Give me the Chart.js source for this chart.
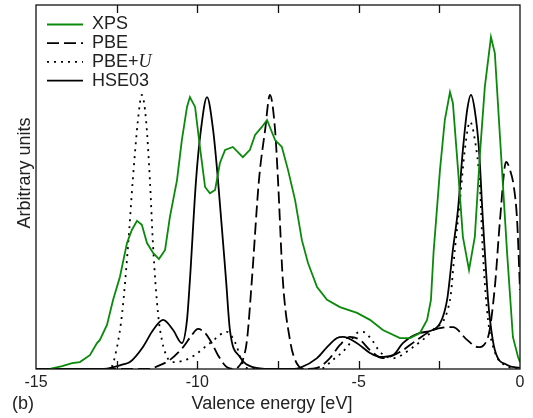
<!DOCTYPE html>
<html>
<head>
<meta charset="utf-8">
<script src="https://cdn.jsdelivr.net/npm/chart.js@4.4.1/dist/chart.umd.min.js"></script>
<style>
  html, body { margin: 0; padding: 0; background: #fff; }
  #wrap { width: 533px; height: 418px; }
</style>
</head>
<body>
<div id="wrap"><canvas id="c"></canvas></div>
<script>
// energies in eV, intensities in arbitrary units (0..100)
const xpsE = [-14.57, -14.19, -13.88, -13.64, -13.33, -13.11, -13.02, -12.80, -12.61, -12.40,
  -12.18, -12.03, -11.87, -11.72, -11.56, -11.37, -11.19, -11.00, -10.85, -10.63,
  -10.48, -10.32, -10.23, -10.07, -9.92, -9.76, -9.61, -9.45, -9.30, -9.14,
  -8.90, -8.59, -8.37, -8.21, -8.00, -7.84, -7.59, -7.38, -7.19, -6.97,
  -6.76, -6.57, -6.29, -5.98, -5.58, -5.05, -4.65, -4.25, -3.72, -3.41,
  -3.10, -2.88, -2.76, -2.68, -2.48, -2.33, -2.17, -2.08, -1.92, -1.77,
  -1.58, -1.40, -1.24, -1.09, -0.90, -0.78, -0.62, -0.40, -0.22, -0.06, 0];
const xpsI = [0, 0.8, 1.6, 1.9, 3.8, 7.1, 8.0, 12.1, 19.0, 25.3,
  34.6, 38.2, 40.7, 39.6, 34.6, 31.9, 30.2, 32.7, 41.8, 51.9,
  62.9, 72.0, 74.7, 72.0, 61.0, 50.0, 48.3, 49.2, 56.6, 60.2,
  61.0, 58.2, 60.2, 64.3, 66.5, 68.4, 62.9, 61.0, 54.7, 46.4,
  35.4, 29.1, 22.5, 19.0, 17.0, 15.4, 13.5, 10.7, 8.5, 8.5,
  9.9, 13.5, 19.0, 31.9, 54.7, 68.4, 76.1, 73.1, 54.7, 36.3,
  27.2, 36.3, 59.3, 77.5, 91.2, 86.8, 63.7, 31.9, 8.8, 3.3, 1.9];

const pbeE = [-15, -11.47, -11.37, -10.85, -10.44, -10.17, -9.98, -9.76, -9.55, -9.36,
  -9.08, -8.83, -8.68, -8.59, -8.46, -8.31, -8.09, -7.90, -7.75, -7.59,
  -7.50, -7.35, -7.13, -6.97, -6.66, -6.29, -5.89, -5.58, -5.27, -4.96,
  -4.65, -4.25, -3.72, -3.19, -2.70, -2.08, -1.64, -1.30, -0.99, -0.78,
  -0.62, -0.43, -0.31, -0.19, -0.09, 0];
const pbeI = [0, 0, 0.3, 2.5, 6.0, 9.3, 11.0, 9.9, 7.1, 3.8,
  0.5, 0, 1.1, 2.5, 8.0, 24.4, 51.9, 65.6, 75.3, 65.6,
  51.9, 24.4, 8.0, 2.5, 0, 0.3, 3.0, 6.6, 8.8, 8.0,
  5.2, 3.0, 4.7, 8.0, 10.7, 11.5, 8.0, 6.0, 8.8, 22.5,
  40.9, 56.9, 54.7, 50.0, 40.9, 21.7];

const pbeuE = [-15, -12.71, -12.49, -12.33, -12.15, -12.00, -11.84, -11.72, -11.59, -11.47,
  -11.37, -11.22, -11.10, -10.94, -10.75, -10.23, -9.61, -9.08, -8.90, -8.77,
  -8.62, -8.37, -6.20, -5.80, -5.36, -5.05, -4.87, -4.59, -4.34, -3.94,
  -3.32, -2.70, -2.17, -2.02, -1.86, -1.71, -1.55, -1.40, -1.24, -1.15,
  -0.99, -0.78, -0.40, 0];
const pbeuI = [0, 0, 6.0, 15.4, 33.5, 51.9, 68.4, 75.3, 68.4, 51.9,
  33.5, 15.4, 8.0, 3.3, 1.9, 3.0, 7.1, 10.2, 8.5, 6.0,
  1.9, 0, 0, 2.5, 6.0, 9.9, 10.2, 8.0, 4.7, 3.0,
  6.0, 10.7, 19.0, 32.7, 46.4, 60.2, 67.9, 63.0, 50.0, 31.9,
  13.5, 4.7, 0.8, 0];

const hseE = [-15, -12.90, -12.60, -12.30, -12.09, -11.69, -11.37, -11.06, -10.75, -10.48,
  -10.32, -10.23, -10.04, -9.89, -9.70, -9.51, -9.36, -9.11, -8.99, -8.68,
  -8.28, -7.75, -7.00, -6.82, -6.29, -5.98, -5.67, -5.49, -5.05, -4.65,
  -4.34, -3.94, -3.63, -3.10, -2.57, -2.26, -2.08, -1.92, -1.77, -1.64,
  -1.52, -1.40, -1.27, -1.15, -0.99, -0.93, -0.78, -0.40, 0];
const hseI = [0, 0, 0.5, 1.3, 1.9, 6.0, 10.7, 13.5, 10.7, 7.1,
  13.5, 24.4, 51.9, 65.6, 74.7, 65.6, 51.9, 24.4, 10.7, 3.3,
  0.5, 0, 0, 0.3, 3.0, 6.0, 8.5, 8.8, 7.1, 4.4,
  3.3, 3.8, 7.1, 9.9, 11.5, 19.0, 32.7, 44.0, 60.2, 71.0,
  75.3, 71.0, 60.2, 40.9, 19.0, 13.5, 5.2, 1.1, 0.3];

const xLabels = [-15, -10, -5, 0];
const tickMarks = [-12.5, -10, -7.5, -5, -2.5];

const green = '#0a8a0a';

function pts(xs, ys) {
  return xs.map((x, i) => ({ x: x, y: ys[i] }));
}

const frame = {
  id: 'frame',
  afterDraw(chart) {
    const { ctx, chartArea: { left, right, top, bottom }, scales: { x } } = chart;
    ctx.save();
    ctx.strokeStyle = '#111';
    ctx.lineWidth = 1.3;
    ctx.strokeRect(left, top, right - left, bottom - top);
    tickMarks.forEach(v => {
      const px = Math.round(x.getPixelForValue(v)) + 0.5;
      ctx.beginPath();
      ctx.moveTo(px, top); ctx.lineTo(px, top + 8);
      ctx.moveTo(px, bottom); ctx.lineTo(px, bottom - 8);
      ctx.stroke();
    });

    // legend
    const rows = [
      { label: 'XPS', color: green, dash: [] },
      { label: 'PBE', color: '#000', dash: [12, 5] },
      { label: 'PBE+', italic: 'U', color: '#000', dash: [2, 5] },
      { label: 'HSE03', color: '#000', dash: [] }
    ];
    ctx.textBaseline = 'middle';
    rows.forEach((r, i) => {
      const y = 24.5 + i * 18.7;
      ctx.beginPath();
      ctx.setLineDash(r.dash);
      ctx.strokeStyle = r.color;
      ctx.lineWidth = 1.8;
      ctx.moveTo(47, y); ctx.lineTo(83, y);
      ctx.stroke();
      ctx.setLineDash([]);
      ctx.fillStyle = '#222';
      ctx.font = '18px "Liberation Sans", Arial, sans-serif';
      ctx.fillText(r.label, 92, y);
      if (r.italic) {
        const w = ctx.measureText(r.label).width;
        ctx.font = 'italic 18px "Liberation Serif", "Times New Roman", serif';
        ctx.fillText(r.italic, 92 + w, y);
      }
    });

    // axis titles and panel letter
    ctx.fillStyle = '#222';
    ctx.font = '18px "Liberation Sans", Arial, sans-serif';
    ctx.textAlign = 'center';
    ctx.fillText('Valence energy [eV]', 272, 404);
    ctx.textAlign = 'left';
    ctx.fillText('(b)', 12, 404);
    ctx.save();
    ctx.translate(25, 173);
    ctx.rotate(-Math.PI / 2);
    ctx.textAlign = 'center';
    ctx.fillText('Arbitrary units', 0, 0);
    ctx.restore();
    ctx.restore();
  }
};

new Chart(document.getElementById('c'), {
  type: 'line',
  data: {
    datasets: [
      { label: 'XPS', data: pts(xpsE, xpsI), borderColor: green, borderWidth: 1.8, tension: 0 },
      { label: 'PBE', data: pts(pbeE, pbeI), borderColor: '#000', borderWidth: 1.8, borderDash: [12, 5], cubicInterpolationMode: 'monotone' },
      { label: 'PBE+U', data: pts(pbeuE, pbeuI), borderColor: '#000', borderWidth: 1.8, borderDash: [2, 5], cubicInterpolationMode: 'monotone' },
      { label: 'HSE03', data: pts(hseE, hseI), borderColor: '#000', borderWidth: 1.8, cubicInterpolationMode: 'monotone' }
    ]
  },
  options: {
    responsive: true,
    maintainAspectRatio: false,
    animation: false,
    layout: { padding: { left: 36, right: 13, top: 5, bottom: 0 } },
    elements: { point: { radius: 0 } },
    scales: {
      x: {
        type: 'linear',
        min: -15,
        max: 0,
        grid: { display: false, drawTicks: false },
        border: { display: false },
        afterFit: (scale) => { scale.height = 49; },
        afterBuildTicks: (scale) => { scale.ticks = xLabels.map(v => ({ value: v })); },
        ticks: {
          autoSkip: false,
          maxRotation: 0,
          padding: 4,
          color: '#222',
          font: { family: '"Liberation Sans", Arial, sans-serif', size: 16 },
          callback: (v) => String(v)
        }
      },
      y: {
        display: false,
        min: 0,
        max: 100
      }
    },
    plugins: {
      legend: { display: false },
      tooltip: { enabled: false }
    }
  },
  plugins: [frame]
});
</script>
</body>
</html>
